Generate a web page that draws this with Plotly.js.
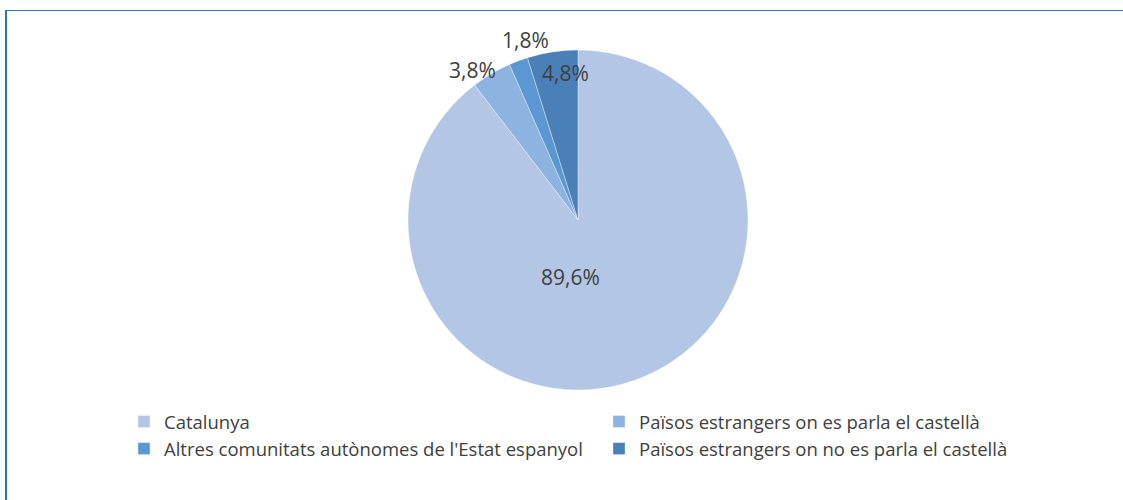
<!DOCTYPE html>
<html>
<head>
<meta charset="utf-8">
<script src="https://cdn.plot.ly/plotly-3.0.1.min.js"></script>
<style>
  html, body { margin: 0; padding: 0; background: #fff; }
  #wrap { position: relative; width: 1123px; height: 500px; overflow: hidden; }
  #chart { position: absolute; left: 0; top: 0; width: 1123px; height: 500px; }
  #frame { position: absolute; left: 5px; top: 10px; right: -5px; bottom: -5px;
           border-left: 2px solid #2e75b6; border-top: 1.5px solid #2e75b6; pointer-events: none; }
</style>
</head>
<body>
<div id="wrap"><div id="chart"></div><div id="frame"></div></div>
<script>
const categories = [
  "Catalunya",
  "Països estrangers on es parla el castellà",
  "Altres comunitats autònomes de l'Estat espanyol",
  "Països estrangers on no es parla el castellà"
];
const values = [89.6, 3.8, 1.8, 4.8];
const colors = ["#b3c6e5", "#8db3e0", "#5b97d2", "#4b7fb7"];

const fmt = v => v.toFixed(1).replace(".", ",") + "%";

const W = 1123, H = 500;
const MB = 100;            // bottom margin reserved for legend
const HP = H - MB;         // plot area height
// label positions (pixel positions in the picture)
const labelPos = [[570, 277], [472, 70], [525, 40], [565, 73]];

const annotations = values.map((v, i) => ({
  x: labelPos[i][0] / W, y: 1 - labelPos[i][1] / HP,
  xref: "paper", yref: "paper", xanchor: "center", yanchor: "middle",
  text: fmt(v), showarrow: false,
  font: { family: "Open Sans, sans-serif", size: 21, color: "#404040" }
}));

const trace = {
  type: "pie",
  labels: categories,
  values: values,
  sort: false,
  direction: "clockwise",
  rotation: 0,
  marker: { colors: colors, line: { color: "rgba(255,255,255,0.45)", width: 0.8 } },
  textinfo: "none",
  hoverinfo: "label+percent",
  domain: { x: [(578 - 170) / W, (578 + 170) / W], y: [1 - 390 / HP, 1 - 50 / HP] }
};

const layout = {
  width: W, height: H,
  margin: { l: 0, r: 0, t: 0, b: MB },
  paper_bgcolor: "rgba(0,0,0,0)",
  plot_bgcolor: "rgba(0,0,0,0)",
  showlegend: true,
  legend: {
    orientation: "h",
    xref: "container", yref: "container",
    x: 124 / W, xanchor: "left",
    y: 1 - 403 / H, yanchor: "top",
    entrywidth: 430, entrywidthmode: "pixels",
    itemwidth: 30,
    font: { family: "Open Sans, sans-serif", size: 18.5, color: "#404040" },
    traceorder: "normal"
  },
  annotations: annotations
};

Plotly.newPlot("chart", [trace], layout, { displayModeBar: false, staticPlot: true });
</script>
</body>
</html>
